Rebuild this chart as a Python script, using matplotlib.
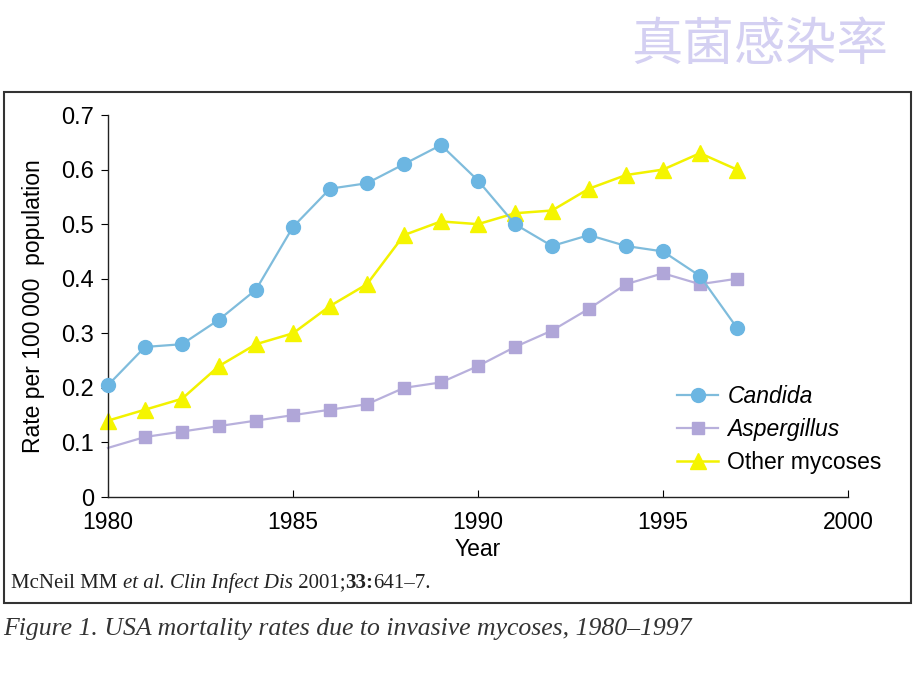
import matplotlib
matplotlib.use("Agg")
import matplotlib.pyplot as plt
from matplotlib.patches import Rectangle

years = list(range(1980, 1998))
candida = [0.205, 0.275, 0.28, 0.325, 0.38, 0.495, 0.565, 0.575, 0.61, 0.645,
           0.58, 0.50, 0.46, 0.48, 0.46, 0.45, 0.405, 0.31]
aspergillus = [0.09, 0.11, 0.12, 0.13, 0.14, 0.15, 0.16, 0.17, 0.20, 0.21,
               0.24, 0.275, 0.305, 0.345, 0.39, 0.41, 0.39, 0.40]
other = [0.14, 0.16, 0.18, 0.24, 0.28, 0.30, 0.35, 0.39, 0.48, 0.505,
         0.50, 0.52, 0.525, 0.565, 0.59, 0.60, 0.63, 0.60]
x_ticks = [1980, 1985, 1990, 1995, 2000]
y_ticks = [0, 0.1, 0.2, 0.3, 0.4, 0.5, 0.6, 0.7]
y_labels = ['0', '0.1', '0.2', '0.3', '0.4', '0.5', '0.6', '0.7']

plt.rcParams['font.family'] = ['Liberation Sans', 'DejaVu Sans']

fig = plt.figure(figsize=(9.2, 6.9), dpi=100)
fig.patch.set_facecolor('white')

# outer frame around the figure panel
fig.patches.append(Rectangle((0.0043, 0.126), 0.9857, 0.7407, transform=fig.transFigure,
                             fill=False, edgecolor='#333333', linewidth=1.5))

ax = fig.add_axes([0.1174, 0.2797, 0.8043, 0.5536])

ax.plot(years, candida, color='#7fbcdc', linewidth=1.6, marker='o', markersize=10,
        markerfacecolor='#6cb6e2', markeredgecolor='#6cb6e2', label='Candida', zorder=3)
ax.plot(years, aspergillus, color='#b8b0dc', linewidth=1.6, marker='s', markersize=9,
        markerfacecolor='#b0a6d8', markeredgecolor='#b0a6d8', markevery=list(range(1, len(years))),
        label='Aspergillus', zorder=2)
ax.plot(years, other, color='#f2f200', linewidth=1.8, marker='^', markersize=11,
        markerfacecolor='#f5f500', markeredgecolor='#f5f500', label='Other mycoses', zorder=2)

ax.set_xlim(1980, 2000)
ax.set_ylim(0, 0.7)
ax.set_xticks(x_ticks)
ax.set_yticks(y_ticks)
ax.set_yticklabels(y_labels)
ax.tick_params(axis='x', direction='in', length=5, labelsize=16.5, pad=10)
ax.tick_params(axis='y', direction='out', length=5, labelsize=17, pad=5)
for side in ['top', 'right']:
    ax.spines[side].set_visible(False)
for side in ['left', 'bottom']:
    ax.spines[side].set_linewidth(1.0)
    ax.spines[side].set_color('#222222')
for line in ax.lines:
    line.set_clip_on(False)

ax.set_xlabel('Year', fontsize=16.5, labelpad=3)
ax.set_ylabel('Rate per 100\u2009000  population', fontsize=16.5, labelpad=12)

leg = ax.legend(loc='lower right', bbox_to_anchor=(1.058, 0.035), frameon=False,
                fontsize=16.5, handlelength=1.8, handletextpad=0.4, labelspacing=0.45,
                borderaxespad=0)
leg.get_texts()[0].set_fontstyle('italic')
leg.get_texts()[1].set_fontstyle('italic')

# Chinese title
fig.text(0.965, 0.935, '真菌感染率', fontsize=37, color='#d4d0f2', ha='right', va='center',
         family=['Noto Sans CJK SC', 'DejaVu Sans'])

# citation inside the frame, built from pieces
pieces = [('McNeil MM ', 'normal', 'normal'), ('et al', 'italic', 'normal'),
          ('. ', 'normal', 'normal'), ('Clin Infect Dis', 'italic', 'normal'),
          (' 2001;', 'normal', 'normal'), ('33:', 'normal', 'bold'),
          ('641\u20137.', 'normal', 'normal')]
fig.canvas.draw()
renderer = fig.canvas.get_renderer()
x = 0.012
for txt, style, weight in pieces:
    t = fig.text(x, 0.155, txt, fontsize=15, family='Liberation Serif', style=style,
                 weight=weight, color='#222222', va='center')
    bb = t.get_window_extent(renderer)
    x += bb.width / fig.bbox.width

fig.text(0.003, 0.088, 'Figure 1. USA mortality rates due to invasive mycoses, 1980\u20131997',
         fontsize=18.5, family='Liberation Serif', style='italic', color='#333333', va='center')

fig.savefig('out.png', dpi=100)
